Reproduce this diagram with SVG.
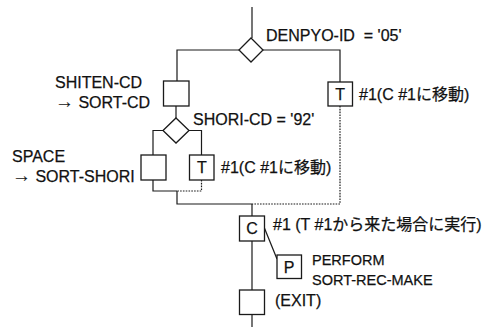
<svg xmlns="http://www.w3.org/2000/svg" width="497" height="327" viewBox="0 0 497 327">
<style>
  .ln{fill:none;stroke:#1a1a1a;stroke-width:1.2}
  .dt{fill:none;stroke:#1a1a1a;stroke-width:1.2;stroke-dasharray:1.6 1.2}
  .bx{fill:#fff;stroke:#1a1a1a;stroke-width:1.3}
  .t{font-family:"Liberation Sans","Noto Sans CJK JP",sans-serif;font-size:16px;fill:#111;stroke:#111;stroke-width:0.25;white-space:pre}
  .s{font-size:14.5px}
  .c{text-anchor:middle}
  .ar{font-size:19px;stroke-width:0.1}
</style>
<rect width="497" height="327" fill="#fff"/>
<g id="connectors">
  <path class="ln" d="M252,7 V38"/>
  <path class="ln" d="M239,50 H177 V81"/>
  <path class="ln" d="M263,50 H340 V82"/>
  <path class="dt" d="M340,106 V204 H252"/>
  <path class="ln" d="M176,106 V118"/>
  <path class="ln" d="M163,130.5 H153 V155"/>
  <path class="ln" d="M189,130.5 H201.5 V155"/>
  <path class="ln" d="M153,180 V191 H177"/>
  <path class="dt" d="M201.5,180 V191 H177"/>
  <path class="ln" d="M177,191 V204 H252"/>
  <path class="ln" d="M252,204 V216"/>
  <path class="ln" d="M252,241 V290"/>
  <path class="ln" d="M252,314 V327"/>
  <path class="ln" d="M264,227 L277,259"/>
</g>
<g id="cond-denpyo">
  <polygon class="bx" points="251,38 263,50 251,62 239,50"/>
  <text class="t" x="266" y="41" xml:space="preserve">DENPYO-ID  = '05'</text>
</g>
<g id="t-denpyo">
  <rect class="bx" x="328" y="82" width="24.5" height="24"/>
  <text class="t c" x="340.2" y="100">T</text>
  <text class="t" x="359" y="100">#1(C #1に移動)</text>
</g>
<g id="shiten">
  <rect class="bx" x="163.5" y="81" width="25.5" height="25"/>
  <text class="t" x="55" y="88">SHITEN-CD</text>
  <text class="t" x="55" y="108"><tspan class="ar">→</tspan> SORT-CD</text>
</g>
<g id="cond-shori">
  <polygon class="bx" points="176,118 189,130.5 176,143 163,130.5"/>
  <text class="t" x="193" y="125">SHORI-CD = '92'</text>
</g>
<g id="space">
  <rect class="bx" x="141" y="155" width="25" height="25"/>
  <text class="t" x="12" y="162">SPACE</text>
  <text class="t" x="12" y="182"><tspan class="ar">→</tspan> SORT-SHORI</text>
</g>
<g id="t-shori">
  <rect class="bx" x="189.5" y="155" width="24.5" height="25"/>
  <text class="t c" x="201.8" y="173">T</text>
  <text class="t" x="221" y="173">#1(C #1に移動)</text>
</g>
<g id="c1">
  <rect class="bx" x="239.5" y="216" width="25" height="25"/>
  <text class="t c" x="252" y="234">C</text>
  <text class="t" x="273" y="230">#1 (T #1から来た場合に実行)</text>
</g>
<g id="perform">
  <rect class="bx" x="277" y="255" width="24.5" height="23.5"/>
  <text class="t c" x="289.2" y="272.5">P</text>
  <text class="t s" x="312" y="265">PERFORM</text>
  <text class="t s" x="312" y="285">SORT-REC-MAKE</text>
</g>
<g id="exit">
  <rect class="bx" x="239.5" y="290" width="25" height="24.5"/>
  <text class="t" x="275" y="306">(EXIT)</text>
</g>
</svg>
